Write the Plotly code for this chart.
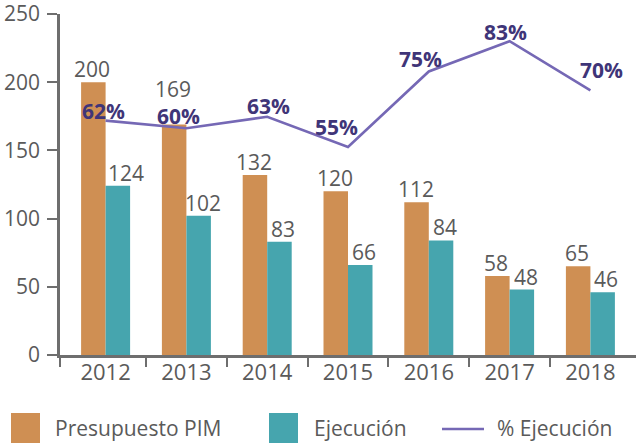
import plotly.graph_objects as go

years = ["2012", "2013", "2014", "2015", "2016", "2017", "2018"]
presupuesto_pim = [200, 169, 132, 120, 112, 58, 65]
ejecucion = [124, 102, 83, 66, 84, 48, 46]
pct_ejecucion = [62, 60, 63, 55, 75, 83, 70]
y_ticks = [0, 50, 100, 150, 200, 250]

# style / placement helpers (not data)
pim_label_lift = [0, 22, 0, 0, 0, 0, 0]
ejec_label_dx = [8, 4, 4, 4, 4, 4, 3]
pct_dx = [-2, -8, 1, -12, -8, -4, 11]
pct_dy = [10, 12, 11, 20, 12, 9, 20]

ORANGE = "#CF8F53"
TEAL = "#46A5AE"
PURPLE = "#7568B5"
PCT_TXT = "#3F3578"
GREY = "#5A5A5A"
AXIS = "#6E6E6E"
FONT = "Open Sans"

W, H = 636, 446
ML, MR, MT, MB = 60, 0, 14, 91
PW, PH = W - ML - MR, H - MT - MB

CAT_W = 80.8          # px per category
FIRST_EDGE = 65.2     # px where first category starts
X0 = -0.5 - (FIRST_EDGE - ML) / CAT_W
X1 = X0 + PW / CAT_W
BAR_HALF = 12.25

year_idx = list(range(len(years)))


def px(x):
    return (x - ML) / PW


def py(y):
    return (H - MB - y) / PH


fig = go.Figure()
fig.add_bar(x=years, y=presupuesto_pim, name="Presupuesto PIM",
            marker=dict(color=ORANGE, line=dict(width=0)), showlegend=False)
fig.add_bar(x=years, y=ejecucion, name="Ejecución",
            marker=dict(color=TEAL, line=dict(width=0)), showlegend=False)
fig.add_scatter(x=year_idx, y=pct_ejecucion, name="% Ejecución", xaxis="x2", yaxis="y2",
                mode="lines", line=dict(color=PURPLE, width=2.6), showlegend=False,
                text=years, hovertemplate="%{text}: %{y}%<extra></extra>")

annotations = []
for i, yr in enumerate(years):
    annotations.append(dict(x=i, y=presupuesto_pim[i], xref="x", yref="y",
                            text=str(presupuesto_pim[i]), showarrow=False,
                            xshift=-BAR_HALF - 1, yshift=-3 + pim_label_lift[i],
                            yanchor="bottom", font=dict(family=FONT, size=21, color=GREY)))
    annotations.append(dict(x=i, y=ejecucion[i], xref="x", yref="y",
                            text=str(ejecucion[i]), showarrow=False,
                            xshift=BAR_HALF + ejec_label_dx[i], yshift=-3,
                            yanchor="bottom", font=dict(family=FONT, size=21, color=GREY)))
    annotations.append(dict(x=i, y=pct_ejecucion[i], xref="x2", yref="y2",
                            text=f"{pct_ejecucion[i]}%", showarrow=False,
                            xshift=pct_dx[i], yshift=pct_dy[i],
                            yanchor="middle",
                            font=dict(family=FONT, size=21, color=PCT_TXT, weight="bold")))

# custom legend
shapes = [
    dict(type="rect", xref="paper", yref="paper", x0=px(11), x1=px(40), y0=py(443), y1=py(413),
         fillcolor=ORANGE, line=dict(width=0)),
    dict(type="rect", xref="paper", yref="paper", x0=px(269), x1=px(298), y0=py(443), y1=py(413),
         fillcolor=TEAL, line=dict(width=0)),
    dict(type="line", xref="paper", yref="paper", x0=px(442), x1=px(484), y0=py(429), y1=py(429),
         line=dict(color=PURPLE, width=2.6)),
]
for xt, label in [(53, "Presupuesto PIM"), (312, "Ejecución"), (495, "% Ejecución")]:
    annotations.append(dict(x=px(xt), y=py(428), xref="paper", yref="paper", text=label,
                            showarrow=False, xanchor="left", yanchor="middle",
                            font=dict(family=FONT, size=21, color=GREY)))

boundary_ticks = [X0 + 0.002] + [i + 0.5 for i in range(len(years) - 1)]

fig.update_layout(
    width=W, height=H,
    margin=dict(l=ML, r=MR, t=MT, b=MB, autoexpand=False),
    paper_bgcolor="white", plot_bgcolor="white",
    barmode="group", bargap=(CAT_W - 4 * BAR_HALF) / CAT_W, bargroupgap=0,
    font=dict(family=FONT, size=21, color=GREY),
    xaxis=dict(type="category", showline=True, linecolor=AXIS, linewidth=2.5,
               ticks="", tickfont=dict(family=FONT, size=22, color=GREY), showgrid=False,
               range=[X0, X1], ticklabelstandoff=-4),
    xaxis2=dict(overlaying="x", anchor="y", side="bottom", type="linear", range=[X0, X1],
                tickvals=boundary_ticks, ticks="outside", ticklen=11, tickwidth=2,
                tickcolor=AXIS, showticklabels=False, showline=False, showgrid=False,
                zeroline=False),
    yaxis=dict(range=[0, 250], tickvals=y_ticks, showline=True,
               linecolor=AXIS, linewidth=2.5, ticks="outside", ticklen=10, tickwidth=2,
               tickcolor=AXIS, showgrid=False, zeroline=False, ticklabeloverflow="allow",
               ticklabelstandoff=3, tickfont=dict(family=FONT, size=21, color=GREY)),
    yaxis2=dict(range=[0, 90.2], overlaying="y", visible=False),
    shapes=shapes,
    annotations=annotations,
)

fig.write_html("out.html", config={"displayModeBar": False},
               post_script="document.body.style.margin='0';")
